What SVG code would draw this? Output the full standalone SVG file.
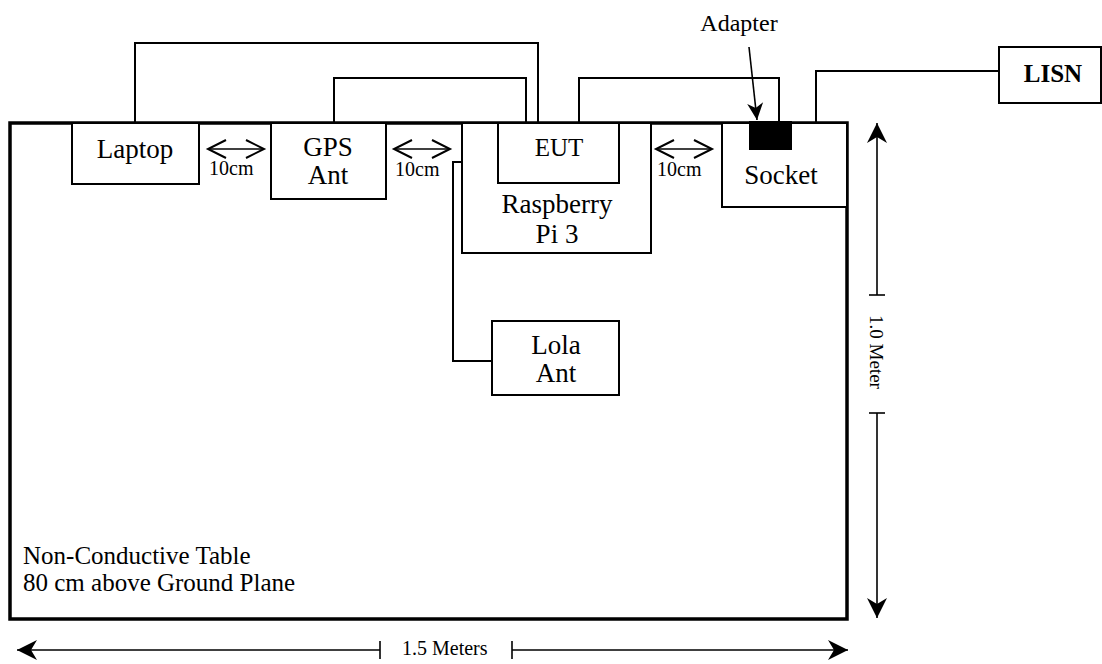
<svg xmlns="http://www.w3.org/2000/svg" width="1102" height="664" viewBox="0 0 1102 664">
<style>
text{font-family:"Liberation Serif","Times New Roman",serif;fill:#000}
.lbl{font-size:27px;text-anchor:middle}
.sm{font-size:20px}
.box{fill:#fff;stroke:#000;stroke-width:2}
.wire{fill:none;stroke:#000;stroke-width:2}
.dim{fill:none;stroke:#000;stroke-width:1.6}
</style>
<defs>
<marker id="chev" markerUnits="userSpaceOnUse" markerWidth="22" markerHeight="22" viewBox="0 0 22 22" refX="19" refY="11" orient="auto-start-reverse">
<path d="M1,2 L19,11 L1,20" fill="none" stroke="#000" stroke-width="2"/>
</marker>
<marker id="stealth" markerUnits="userSpaceOnUse" markerWidth="22" markerHeight="22" viewBox="0 0 22 22" refX="20" refY="11" orient="auto">
<path d="M0,1 L20,11 L0,21 L6,11 z" fill="#000"/>
</marker>
<marker id="stealthS" markerUnits="userSpaceOnUse" markerWidth="18" markerHeight="18" viewBox="0 0 18 18" refX="17" refY="9" orient="auto">
<path d="M0,1 L17,9 L0,17 L5,9 z" fill="#000"/>
</marker>
</defs>

<g id="table">
<rect x="10" y="123" width="837" height="496" fill="#fff" stroke="#000" stroke-width="3.5"/>
<text x="23" y="564" style="font-size:25px">Non-Conductive Table</text>
<text x="23" y="591" style="font-size:25px">80 cm above Ground Plane</text>
</g>

<g id="connectors">
<path class="wire" d="M135,123 V43 H538 V123"/>
<path class="wire" d="M334,123 V78 H526 V123"/>
<path class="wire" d="M579,123 V78 H779 V121"/>
<path class="wire" d="M816,123 V71 H999"/>
<path class="wire" d="M498,162 H453 V361 H492"/>
<line class="dim" x1="749" y1="47" x2="757" y2="120" marker-end="url(#stealthS)"/>
</g>

<g id="laptop">
<rect class="box" x="72" y="123" width="127" height="61"/>
<text class="lbl" x="135" y="158">Laptop</text>
</g>
<g id="gps">
<rect class="box" x="271" y="123" width="115" height="76"/>
<text class="lbl" x="328" y="156">GPS</text>
<text class="lbl" x="328" y="184">Ant</text>
</g>
<g id="raspberry">
<rect class="box" x="462" y="123" width="189" height="130"/>
<text class="lbl" x="557" y="213">Raspberry</text>
<text class="lbl" x="557" y="243">Pi 3</text>
</g>
<g id="eut">
<rect class="box" x="498" y="123" width="121" height="60"/>
<text class="lbl" x="559" y="156" style="font-size:25px">EUT</text>
</g>
<g id="lola">
<rect class="box" x="492" y="321" width="127" height="74"/>
<text class="lbl" x="556" y="354">Lola</text>
<text class="lbl" x="556" y="382">Ant</text>
</g>
<g id="socket">
<rect class="box" x="722" y="123" width="125" height="84"/>
<text class="lbl" x="781" y="184">Socket</text>
</g>
<g id="adapter">
<rect x="749" y="121" width="43" height="29" fill="#000"/>
<text x="739" y="31" style="font-size:24px;text-anchor:middle">Adapter</text>
</g>
<g id="lisn">
<rect class="box" x="999" y="47" width="102" height="56"/>
<text x="1053" y="82" style="font-size:25px;font-weight:bold;text-anchor:middle">LISN</text>
</g>

<g id="spacing">
<line class="dim" x1="208" y1="149" x2="264" y2="149" marker-start="url(#chev)" marker-end="url(#chev)"/>
<text class="sm" x="209" y="175">10cm</text>
<line class="dim" x1="394" y1="149" x2="450" y2="149" marker-start="url(#chev)" marker-end="url(#chev)"/>
<text class="sm" x="395" y="176">10cm</text>
<line class="dim" x1="656" y1="149" x2="712" y2="149" marker-start="url(#chev)" marker-end="url(#chev)"/>
<text class="sm" x="657" y="176">10cm</text>
</g>

<g id="dimensions">
<line class="dim" x1="877" y1="295" x2="877" y2="123" marker-end="url(#stealth)"/>
<line class="dim" x1="869" y1="295" x2="885" y2="295"/>
<line class="dim" x1="877" y1="413" x2="877" y2="618" marker-end="url(#stealth)"/>
<line class="dim" x1="869" y1="413" x2="885" y2="413"/>
<text class="sm" transform="translate(870,352) rotate(90)" text-anchor="middle" style="font-size:19px">1.0 Meter</text>
<line class="dim" x1="380" y1="650" x2="17" y2="650" marker-end="url(#stealth)"/>
<line class="dim" x1="380" y1="641" x2="380" y2="659"/>
<line class="dim" x1="512" y1="650" x2="848" y2="650" marker-end="url(#stealth)"/>
<line class="dim" x1="512" y1="641" x2="512" y2="659"/>
<text class="sm" x="402" y="655">1.5 Meters</text>
</g>
</svg>
